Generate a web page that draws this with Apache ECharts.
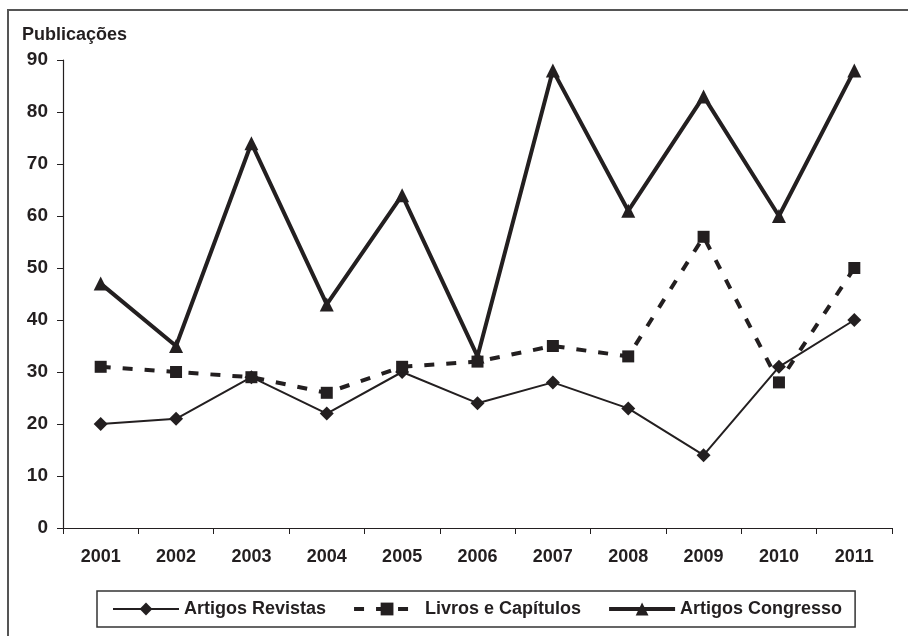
<!DOCTYPE html>
<html>
<head>
<meta charset="utf-8">
<script src="https://cdn.jsdelivr.net/npm/echarts@6/dist/echarts.min.js"></script>
<style>
  html, body { margin: 0; padding: 0; background: #fff; }
  #main { width: 908px; height: 636px; }
</style>
</head>
<body>
<div id="main"></div>
<script>
const years = ["2001", "2002", "2003", "2004", "2005", "2006", "2007", "2008", "2009", "2010", "2011"];
const artigosRevistas = [20, 21, 29, 22, 30, 24, 28, 23, 14, 31, 40];
const livrosCapitulos = [31, 30, 29, 26, 31, 32, 35, 33, 56, 28, 50];
const artigosCongresso = [47, 35, 74, 43, 64, 33, 88, 61, 83, 60, 88];

const font = "'Liberation Sans', Arial, sans-serif";
const ink = "#231f20";

const chart = echarts.init(document.getElementById("main"), null, { renderer: "canvas" });

chart.setOption({
  animation: false,
  backgroundColor: "#fff",
  textStyle: { fontFamily: font },
  graphic: [
    {
      type: "rect",
      shape: { x: 8, y: 10, width: 910, height: 640 },
      style: { fill: "none", stroke: "#555", lineWidth: 2 }
    },
    {
      type: "text",
      left: 22,
      top: 26,
      style: { text: "Publicações", font: "bold 18px " + font, fill: ink }
    }
  ],
  grid: { left: 63, right: 16, top: 60, bottom: 108 },
  legend: {
    left: 97,
    top: 591,
    width: 800,
    padding: [9, 13, 9, 15],
    borderColor: "#333",
    borderWidth: 1.5,
    borderRadius: 0,
    itemWidth: 66,
    itemHeight: 16,
    itemGap: 26,
    textStyle: { fontFamily: font, fontSize: 18, fontWeight: "bold", color: ink },
    data: [
      { name: "Artigos Revistas", lineStyle: { width: 2 } },
      { name: "Livros e Capítulos", lineStyle: { width: 4, type: [10, 12] } },
      { name: "Artigos Congresso", lineStyle: { width: 4 } }
    ]
  },
  xAxis: {
    type: "category",
    data: years,
    boundaryGap: true,
    axisLine: { lineStyle: { color: ink, width: 1.2 } },
    axisTick: { show: true, length: 6, inside: false, lineStyle: { color: ink } },
    axisLabel: { fontFamily: font, fontSize: 18, fontWeight: "bold", color: ink, margin: 20 },
    splitLine: { show: false }
  },
  yAxis: {
    type: "value",
    min: 0,
    max: 90,
    interval: 10,
    axisLine: { show: true, lineStyle: { color: ink, width: 1.2 } },
    axisTick: { show: true, length: 6, lineStyle: { color: ink } },
    axisLabel: { fontFamily: font, fontSize: 19, fontWeight: "bold", color: ink, margin: 15 },
    splitLine: { show: false }
  },
  series: [
    {
      name: "Artigos Revistas",
      type: "line",
      data: artigosRevistas,
      symbol: "diamond",
      symbolSize: 14,
      color: ink,
      lineStyle: { color: ink, width: 2 },
      itemStyle: { color: ink }
    },
    {
      name: "Livros e Capítulos",
      type: "line",
      data: livrosCapitulos,
      symbol: "rect",
      symbolSize: 12,
      color: ink,
      lineStyle: { color: ink, width: 4, type: [10, 12] },
      itemStyle: { color: ink }
    },
    {
      name: "Artigos Congresso",
      type: "line",
      data: artigosCongresso,
      symbol: "triangle",
      symbolSize: 14,
      color: ink,
      lineStyle: { color: ink, width: 4 },
      itemStyle: { color: ink }
    }
  ]
});
</script>
</body>
</html>
